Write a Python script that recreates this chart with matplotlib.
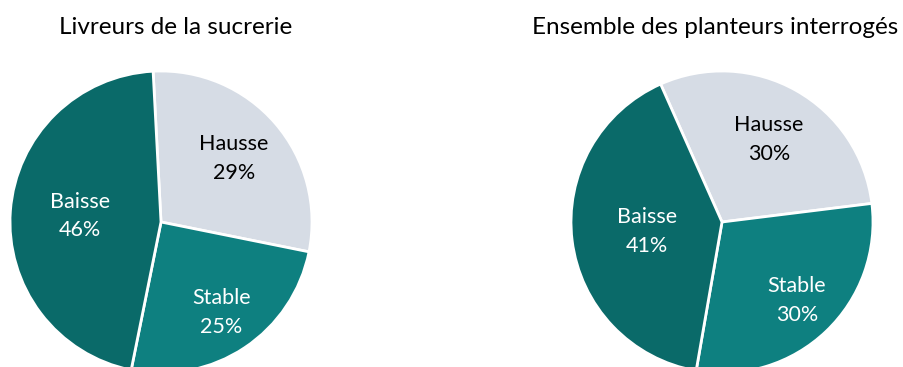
import matplotlib
matplotlib.use("Agg")
import matplotlib.pyplot as plt
import numpy as np

categories = ["Hausse", "Stable", "Baisse"]
livreurs = [29, 25, 46]
ensemble = [30, 30, 41]
titles = ["Livreurs de la sucrerie", "Ensemble des planteurs interrogés"]

colors = ["#D6DCE5", "#0E8080", "#0A6A69"]
text_colors = ["black", "white", "white"]

plt.rcParams['font.family'] = ['Lato', 'DejaVu Sans']

fig = plt.figure(figsize=(9.04, 3.67), dpi=100)
ax = fig.add_axes([0, 0, 1, 1])

specs = [
    dict(vals=livreurs, center=(161, 145), start=93, dists=[0.64, 0.72, 0.54], title_x=176),
    dict(vals=ensemble, center=(722, 145), start=114, dists=[0.63, 0.72, 0.50], title_x=715),
]
R = 151
for spec, title in zip(specs, titles):
    wedges, _ = ax.pie(spec['vals'], colors=colors, startangle=spec['start'],
                       counterclock=False, center=spec['center'], radius=R,
                       wedgeprops=dict(edgecolor='white', linewidth=2), frame=True)
    for w, cat, v, d, tc in zip(wedges, categories, spec['vals'], spec['dists'], text_colors):
        mid = np.deg2rad((w.theta1 + w.theta2) / 2)
        cx, cy = spec['center']
        ax.text(cx + d * R * np.cos(mid), cy + d * R * np.sin(mid), f"{cat}\n{v}%",
                ha='center', va='center', color=tc, fontsize=15.5, linespacing=1.55)
    ax.text(spec['title_x'], 339, title, ha='center', va='center', fontsize=17.5, color='black')

ax.set_xlim(0, 904)
ax.set_ylim(0, 367)
ax.set_aspect('equal')
ax.axis('off')
fig.savefig("out.png", dpi=100)
